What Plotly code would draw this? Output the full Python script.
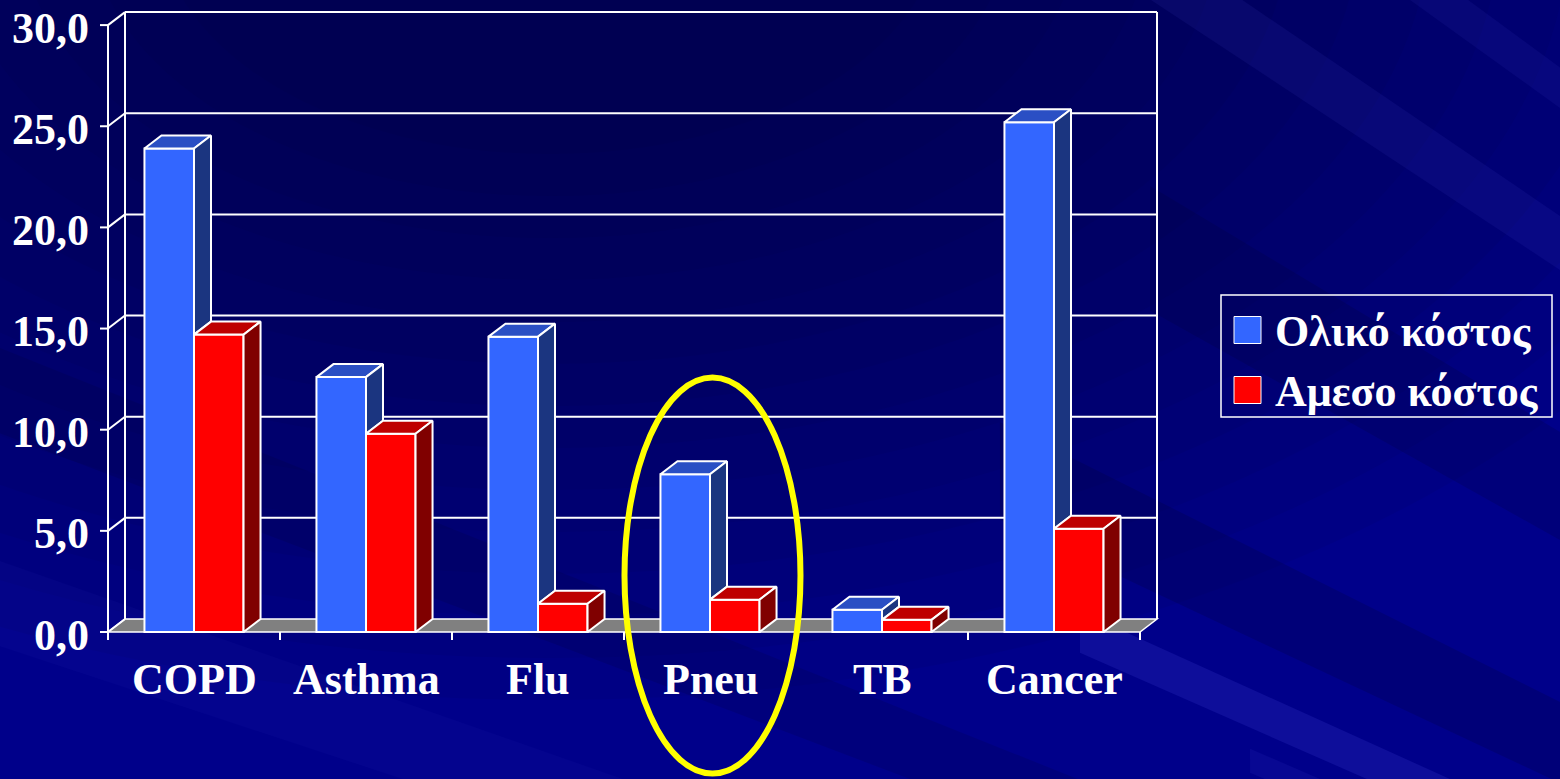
import plotly.graph_objects as go

# ---- data -------------------------------------------------------------
categories = ["COPD", "Asthma", "Flu", "Pneu", "TB", "Cancer"]
total_cost = [23.9, 12.6, 14.6, 7.8, 1.1, 25.2]    # Ολικό κόστος
direct_cost = [14.7, 9.8, 1.4, 1.6, 0.6, 5.1]      # Αμεσο κόστος
series_names = ["Ολικό κόστος", "Αμεσο κόστος"]
y_ticks = [0, 5, 10, 15, 20, 25, 30]
highlight = "Pneu"

# ---- geometry / style -------------------------------------------------
W, H = 1560, 779
PX_X = 172.0            # pixels per category
PX_Y = 20.23            # pixels per value unit
X0_PX, Y0_PX = 108, 632  # pixel position of (first category edge, 0)
XR = [-0.5 - X0_PX / PX_X, -0.5 + (W - X0_PX) / PX_X]
YR = [-(H - Y0_PX) / PX_Y, Y0_PX / PX_Y]
DX = 17 / PX_X          # depth offset of the 3-D box (x units)
DY = 13 / PX_Y          # depth offset of the 3-D box (value units)
BW = 0.288              # bar width (category units)
TICK_X = 8 / PX_X
TICK_Y = 8 / PX_Y

FONT = "Liberation Serif, Times New Roman, serif"
WHITE = "#FFFFFF"
BLUE = dict(front="#3366FF", top="#2A4FC4", side="#1B3580")
RED = dict(front="#FF0000", top="#BE0000", side="#800000")

n = len(categories)
xs = list(range(n))
left_edge, right_edge = -0.5, n - 0.5
ymax = max(y_ticks)

fig = go.Figure()


def px(x):
    return x / W


def py(y):
    return 1 - y / H


def paper_path(pts):
    return "M " + " L ".join(f"{px(x):.4f},{py(y):.4f}" for x, y in pts) + " Z"


# ---- background: dark glow at the top plus faint converging rays -------
shapes = []
for j in range(14):
    r = 1300 - 70 * j
    cx, cy, k = 550, -80, 0.6
    shapes.append(dict(type="circle", xref="paper", yref="paper",
                       x0=px(cx - r), x1=px(cx + r), y0=py(cy + k * r), y1=py(cy - k * r),
                       fillcolor="#000020", opacity=0.05, line=dict(width=0), layer="below"))

FX, FY = 4260, 2052      # vanishing point of the rays (off canvas, lower right)
rays = [
    # (slope_a, slope_b, colour, opacity, x where the ray starts)
    (0.440, 0.453, "#6060FF", 0.14, 1080),
    (0.425, 0.433, "#6060FF", 0.08, 1250),
    (0.470, 0.500, "#000030", 0.20, 1000),
    (0.560, 0.600, "#000030", 0.18, 1150),
    (0.660, 0.680, "#6060FF", 0.08, 1150),
    (0.720, 0.735, "#6060FF", 0.07, 1250),
    (0.380, 0.400, "#000030", 0.15, 0),
    (0.330, 0.350, "#6060FF", 0.04, 0),
]
for sa, sb, col, op, x_start in rays:
    pts = [(FX, FY), (x_start, FY - sa * (FX - x_start)), (x_start, FY - sb * (FX - x_start))]
    shapes.append(dict(type="path", xref="paper", yref="paper", path=paper_path(pts),
                       fillcolor=col, opacity=op, line=dict(width=0), layer="below"))

# ---- 3-D frame: floor, back wall, grid, axes --------------------------
line = dict(color=WHITE, width=2)
floor = [(left_edge, 0), (right_edge, 0), (right_edge + DX, DY), (left_edge + DX, DY)]
shapes.append(dict(type="path", xref="x", yref="y",
                   path="M " + " L ".join(f"{x},{y}" for x, y in floor) + " Z",
                   fillcolor="#808080", line=dict(color=WHITE, width=1.5), layer="below"))
for v in y_ticks[1:]:
    shapes.append(dict(type="line", xref="x", yref="y", x0=left_edge + DX, x1=right_edge + DX,
                       y0=v + DY, y1=v + DY, line=line, layer="below"))
for xe in (left_edge + DX, right_edge + DX):
    shapes.append(dict(type="line", xref="x", yref="y", x0=xe, x1=xe,
                       y0=DY, y1=ymax + DY, line=line, layer="below"))
for v in y_ticks:
    # depth diagonals from the front axis to the back wall
    shapes.append(dict(type="line", xref="x", yref="y", x0=left_edge, x1=left_edge + DX,
                       y0=v, y1=v + DY, line=line, layer="below"))
    # y tick marks
    shapes.append(dict(type="line", xref="x", yref="y", x0=left_edge - TICK_X, x1=left_edge,
                       y0=v, y1=v, line=line))
# front value axis
shapes.append(dict(type="line", xref="x", yref="y", x0=left_edge, x1=left_edge,
                   y0=-TICK_Y, y1=ymax, line=line))
# category separators below the floor
for k in range(1, n + 1):
    xb = k - 0.5
    shapes.append(dict(type="line", xref="x", yref="y", x0=xb, x1=xb,
                       y0=0, y1=-TICK_Y, line=line))

# ---- bars: front faces ----------------------------------------------
fig.add_trace(go.Bar(x=xs, y=total_cost, width=BW, offset=-BW, name=series_names[0],
                     marker=dict(color=BLUE["front"], line=dict(color=WHITE, width=2)),
                     hoverinfo="skip", showlegend=False))
fig.add_trace(go.Bar(x=xs, y=direct_cost, width=BW, offset=0, name=series_names[1],
                     marker=dict(color=RED["front"], line=dict(color=WHITE, width=2)),
                     hoverinfo="skip", showlegend=False))


# ---- bars: top and side faces (painted back to front) ----------------
def poly_trace(polys, color):
    px_, py_ = [], []
    for p in polys:
        for x, y in p + [p[0]]:
            px_.append(x)
            py_.append(y)
        px_.append(None)
        py_.append(None)
    return go.Scatter(x=px_, y=py_, mode="lines", fill="toself", fillcolor=color,
                      line=dict(color=WHITE, width=2), hoverinfo="skip", showlegend=False)


def top_face(xl, xr, h):
    return [(xl, h), (xr, h), (xr + DX, h + DY), (xl + DX, h + DY)]


def side_face(xr, h0, h):
    return [(xr, h0), (xr + DX, h0 + DY), (xr + DX, h + DY), (xr, h)]


blue_top, blue_side, red_top, red_side = [], [], [], []
for i in xs:
    hb, hr = total_cost[i], direct_cost[i]
    bl, br = i - BW, i
    rl, rr = i, i + BW
    blue_top.append(top_face(bl, br, hb))
    if hb > hr:
        blue_side.append(side_face(br, hr, hb))
    red_top.append(top_face(rl, rr, hr))
    red_side.append(side_face(rr, 0, hr))

fig.add_trace(poly_trace(blue_top, BLUE["top"]))
fig.add_trace(poly_trace(blue_side, BLUE["side"]))
fig.add_trace(poly_trace(red_top, RED["top"]))
fig.add_trace(poly_trace(red_side, RED["side"]))

# ---- text ---------------------------------------------------------------
annotations = []
for v in y_ticks:
    annotations.append(dict(x=left_edge, y=v, xref="x", yref="y", showarrow=False,
                            text=f"{v:.1f}".replace(".", ","), xanchor="right", yanchor="middle",
                            xshift=-17, yshift=-3,
                            font=dict(family=FONT, size=44, color=WHITE, weight="bold")))
for i, c in enumerate(categories):
    annotations.append(dict(x=i, y=0, xref="x", yref="y", showarrow=False, text=c,
                            xanchor="center", yanchor="middle", yshift=-47,
                            font=dict(family=FONT, size=44, color=WHITE, weight="bold")))

# ---- legend box ---------------------------------------------------------
shapes.append(dict(type="rect", xref="paper", yref="paper", x0=px(1221), x1=px(1552),
                   y0=py(417), y1=py(295), line=dict(color=WHITE, width=1.5),
                   fillcolor="rgba(0,0,0,0)"))
for k, (name, col) in enumerate(zip(series_names, [BLUE["front"], RED["front"]])):
    cy = 330 + 60 * k
    shapes.append(dict(type="rect", xref="paper", yref="paper", x0=px(1234), x1=px(1261),
                       y0=py(cy + 13.5), y1=py(cy - 13.5), fillcolor=col,
                       line=dict(color=WHITE, width=1)))
    annotations.append(dict(x=px(1273), y=py(cy), xref="paper", yref="paper", showarrow=False,
                            text=name, xanchor="left", yanchor="middle", yshift=-1,
                            font=dict(family=FONT, size=44, color=WHITE, weight="bold")))

# ---- highlight ring -------------------------------------------------
hi = categories.index(highlight)
shapes.append(dict(type="circle", xref="x", yref="y",
                   x0=hi + 0.0145 - 88 / PX_X, x1=hi + 0.0145 + 88 / PX_X,
                   y0=-7.0, y1=12.58, line=dict(color="#FFFF00", width=6)))

fig.update_layout(
    width=W, height=H, margin=dict(l=0, r=0, t=0, b=0, pad=0),
    paper_bgcolor="#00008A", plot_bgcolor="rgba(0,0,0,0)",
    barmode="overlay", showlegend=False,
    xaxis=dict(range=XR, visible=False, fixedrange=True),
    yaxis=dict(range=YR, visible=False, fixedrange=True),
    shapes=shapes, annotations=annotations,
)

fig.write_html("out.html")
